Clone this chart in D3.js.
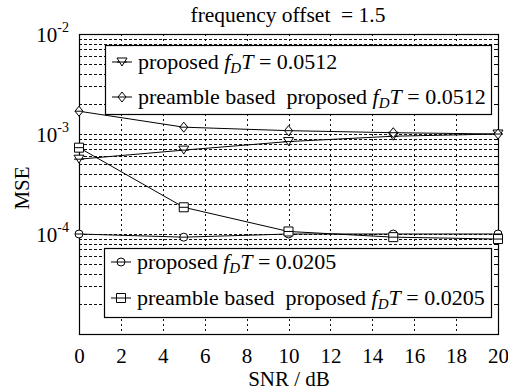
<!DOCTYPE html>
<html>
<head>
<meta charset="utf-8">
<script src="https://cdn.jsdelivr.net/npm/d3@7"></script>
<style>
  html, body { margin: 0; padding: 0; background: #fff; }
  svg { display: block; }
</style>
</head>
<body>
<svg id="chart" width="508" height="392"></svg>
<script>
// SNR points (dB)
const snr = [0, 5, 10, 15, 20];

// MSE per estimator
const proposed0512 = [5.6e-4, 6.9e-4, 8.4e-4, 9.5e-4, 1.0e-3];
const preamble0512 = [1.69e-3, 1.17e-3, 1.08e-3, 1.03e-3, 1.0e-3];
const proposed0205 = [1.0e-4, 9.3e-5, 1.0e-4, 1.0e-4, 1.0e-4];
const preamble0205 = [7.3e-4, 1.85e-4, 1.06e-4, 9.3e-5, 8.9e-5];

const xTicks = [0, 2, 4, 6, 8, 10, 12, 14, 16, 18, 20];
const yDecades = [-4, -3, -2];

const titleText = "frequency offset  = 1.5";
const xLabel = "SNR / dB";
const yLabel = "MSE";

const series = [
  { name: "proposed", fd: "0.0512", values: proposed0512, marker: "triangle" },
  { name: "preamble based  proposed", fd: "0.0512", values: preamble0512, marker: "diamond" },
  { name: "proposed", fd: "0.0205", values: proposed0205, marker: "circle" },
  { name: "preamble based  proposed", fd: "0.0205", values: preamble0205, marker: "square" }
];

const FONT = "\"Liberation Serif\", \"Times New Roman\"";
const svg = d3.select("#chart");
const pLeft = 79, pRight = 498, pTop = 34, pBottom = 334;

const x = d3.scaleLinear().domain([0, 20]).range([pLeft, pRight]);
const y = d3.scaleLog().domain([1e-5, 1e-2]).range([pBottom, pTop]);

// minor + major log grid values
const yGrid = [];
for (let d = -5; d < -2; d++) {
  for (let m = 1; m <= 9; m++) yGrid.push(m * Math.pow(10, d));
}
yGrid.push(1e-2);

const grid = svg.append("g");
grid.selectAll("line.h").data(yGrid.filter(v => v > 1e-5 && v < 1e-2)).join("line")
  .attr("x1", pLeft).attr("x2", pRight)
  .attr("y1", d => Math.round(y(d)) + 0.5).attr("y2", d => Math.round(y(d)) + 0.5)
  .attr("stroke", "#111").attr("stroke-width", 1).attr("stroke-dasharray", "3,2");
grid.selectAll("line.v").data(xTicks.slice(1, -1)).join("line")
  .attr("x1", d => Math.round(x(d)) + 0.5).attr("x2", d => Math.round(x(d)) + 0.5)
  .attr("y1", pTop).attr("y2", pBottom)
  .attr("stroke", "#111").attr("stroke-width", 1).attr("stroke-dasharray", "2,3");

// right-side inward ticks at every log step
svg.append("g").selectAll("line").data(yGrid).join("line")
  .attr("x1", pRight - 4).attr("x2", pRight)
  .attr("y1", d => Math.round(y(d)) + 0.5).attr("y2", d => Math.round(y(d)) + 0.5)
  .attr("stroke", "#000");

// frame
svg.append("rect").attr("x", pLeft + 0.5).attr("y", pTop + 0.5)
  .attr("width", pRight - pLeft).attr("height", pBottom - pTop)
  .attr("fill", "none").attr("stroke", "#000").attr("stroke-width", 1.2);

// x axis tick labels
const xAxis = d3.axisBottom(x).tickValues(xTicks).tickSize(0).tickPadding(0).tickFormat(d3.format("d"));
const gx = svg.append("g").attr("transform", `translate(0,${pBottom})`).call(xAxis);
gx.select(".domain").remove();
gx.attr("font-family", null).attr("font-size", null);
gx.selectAll("text").attr("font-size", 21).attr("fill", "#000")
  .attr("dy", null).attr("y", 29);

// y axis labels: 10^k
const yl = svg.append("g");
yDecades.forEach(k => {
  const v = Math.pow(10, k);
  const t = yl.append("text")
    .attr("x", 69).attr("y", y(v) + 8)
    .attr("text-anchor", "end").attr("font-size", 21).attr("fill", "#000");
  t.append("tspan").text("10");
  t.append("tspan").text(String(k)).attr("font-size", 14).attr("dy", -10);
});

// markers
function marker(g, type, cx, cy) {
  const s = g.append("path").attr("fill", "#fff").attr("stroke", "#000").attr("stroke-width", 1);
  if (type === "triangle") {
    s.attr("d", `M${cx - 5},${cy - 4}L${cx + 5},${cy - 4}L${cx},${cy + 4}Z`);
    g.append("line").attr("x1", cx - 5).attr("x2", cx + 5).attr("y1", cy).attr("y2", cy).attr("stroke", "#000");
  } else if (type === "diamond") {
    s.attr("d", `M${cx},${cy - 5}L${cx + 4},${cy}L${cx},${cy + 5}L${cx - 4},${cy}Z`);
    g.append("line").attr("x1", cx - 4).attr("x2", cx + 4).attr("y1", cy).attr("y2", cy).attr("stroke", "#000");
  } else if (type === "circle") {
    s.attr("d", d3.symbol(d3.symbolCircle, 50)());
    s.attr("transform", `translate(${cx},${cy})`);
    g.append("line").attr("x1", cx - 4).attr("x2", cx + 4).attr("y1", cy).attr("y2", cy).attr("stroke", "#000");
  } else {
    s.attr("d", `M${cx - 4.5},${cy - 4.5}h9v9h-9Z`);
    g.append("line").attr("x1", cx - 4.5).attr("x2", cx + 4.5).attr("y1", cy).attr("y2", cy).attr("stroke", "#000");
  }
}

const line = d3.line().x(d => x(d[0])).y(d => y(d[1]));
series.forEach(s => {
  const pts = snr.map((v, i) => [v, s.values[i]]);
  svg.append("path").datum(pts).attr("d", line)
    .attr("fill", "none").attr("stroke", "#000").attr("stroke-width", 1);
  const g = svg.append("g");
  pts.forEach(p => marker(g, s.marker, x(p[0]), y(p[1])));
});

// legends
function legend(items, bx, by, bw, bh, rows) {
  const g = svg.append("g");
  g.append("rect").attr("x", bx + 0.5).attr("y", by + 0.5).attr("width", bw).attr("height", bh)
    .attr("fill", "#fff").attr("stroke", "#000").attr("stroke-width", 1.2);
  items.forEach((s, i) => {
    const cy = rows[i];
    g.append("line").attr("x1", bx + 7).attr("x2", bx + 27).attr("y1", cy).attr("y2", cy).attr("stroke", "#000");
    marker(g, s.marker, bx + 17, cy);
    const t = g.append("text").attr("x", bx + 33).attr("y", cy + 7).attr("font-size", 22).attr("fill", "#000");
    t.append("tspan").text(s.name + " ");
    t.append("tspan").text("f").attr("font-style", "italic");
    t.append("tspan").text("D").attr("font-style", "italic").attr("font-size", 15).attr("dy", 4);
    t.append("tspan").text("T").attr("font-style", "italic").attr("dy", -4);
    t.append("tspan").text(" = " + s.fd);
  });
}
legend(series.slice(0, 2), 105, 45, 386, 69, [62, 97]);
legend(series.slice(2, 4), 104, 248, 387, 69, [262, 298]);

// title and axis titles
svg.append("text").attr("x", 288).attr("y", 22).attr("text-anchor", "middle")
  .attr("font-size", 21.5).attr("fill", "#000").text(titleText);
svg.append("text").attr("x", 289).attr("y", 386).attr("text-anchor", "middle")
  .attr("font-size", 21).attr("fill", "#000").text(xLabel);
svg.append("text").attr("transform", "translate(29,188) rotate(-90)").attr("text-anchor", "middle")
  .attr("font-size", 21).attr("fill", "#000").text(yLabel);

// serif type throughout, keeping doubled spaces
svg.selectAll("text").style("font-family", FONT).style("white-space", "pre");
</script>
</body>
</html>
